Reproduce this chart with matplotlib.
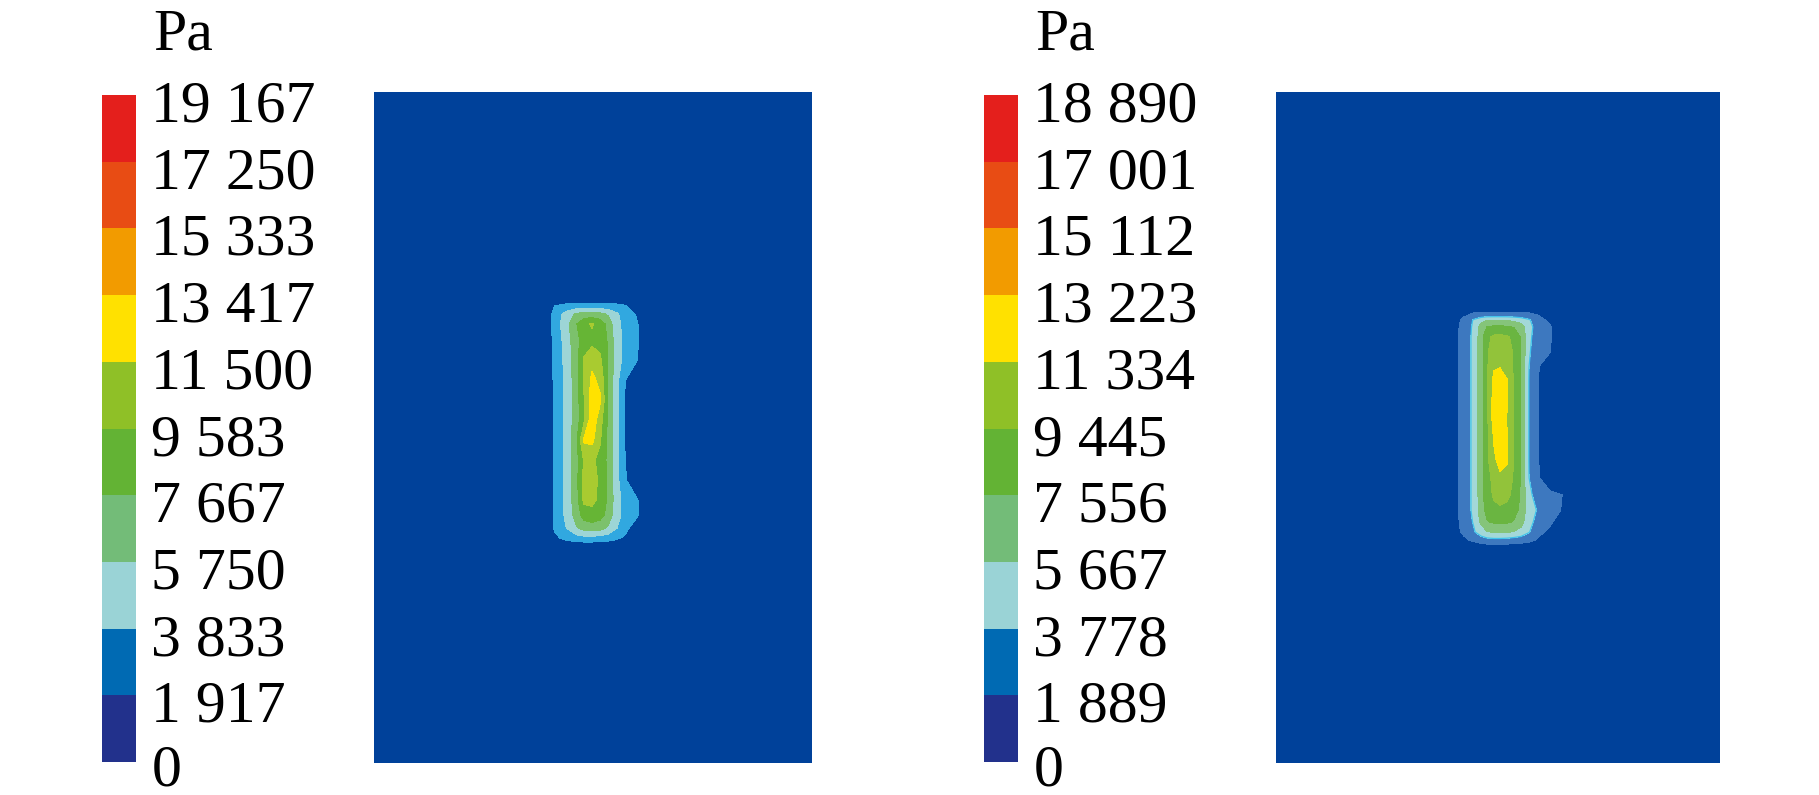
import matplotlib
matplotlib.use("Agg")
import matplotlib.pyplot as plt
import numpy as np
from matplotlib.colors import ListedColormap, BoundaryNorm
from matplotlib.colorbar import ColorbarBase
from matplotlib.transforms import ScaledTranslation

plt.rcParams['font.family'] = ['Liberation Serif', 'DejaVu Serif']

# colour bar levels (Pa)
levels_a = [0, 1917, 3833, 5750, 7667, 9583, 11500, 13417, 15333, 17250, 19167]
levels_b = [0, 1889, 3778, 5667, 7556, 9445, 11334, 13223, 15112, 17001, 18890]

# colour bar bands, bottom to top
bar_colors = ['#22318c', '#006ab3', '#9ad3d6', '#73bc78', '#63b334',
              '#8fc027', '#ffe100', '#f29b00', '#e84c14', '#e41f1c']

# fill colours as they appear in each contour plot
field_a_colors = ['#00419a', '#31a8e0', '#9dd5d6', '#7cc16c', '#66b535',
                  '#a9cb30', '#ffe200', '#f29b00', '#e84c14', '#e41f1c']
field_b_colors = ['#00419a', '#3d78bf', '#a3d8d8', '#85c47a', '#6ab541',
                  '#92c33a', '#ffe300', '#f29b00', '#e84c14', '#e41f1c']

# domain size (width, height), y measured from the top edge
dom_a = (438, 671)
dom_b = (444, 671)

# left case: node positions and pressure values (Pa)
xa = [169, 181, 192, 202, 210, 218, 226, 234, 242, 251, 262, 274]
ya = [204, 214, 222, 232, 248, 268, 288, 308, 328, 348, 368, 388, 408, 423, 436, 446, 456]
pa = [
    [0, 0, 0, 0, 0, 0, 0, 0, 0, 0, 0, 0],
    [0, 2000, 2400, 2600, 2700, 2700, 2600, 2500, 2400, 2100, 800, 0],
    [0, 2600, 4500, 6000, 6500, 6500, 6300, 5500, 4200, 3000, 1800, 0],
    [0, 2700, 5000, 7500, 9000, 9800, 8800, 7000, 4500, 3200, 2300, 0],
    [0, 2500, 4600, 7000, 8500, 9000, 8800, 7500, 4800, 3300, 2400, 0],
    [0, 2400, 4400, 6800, 9800, 10800, 10000, 7500, 4800, 3200, 2200, 0],
    [0, 2300, 4300, 6700, 9800, 12000, 11000, 7600, 4600, 2000, 0, 0],
    [0, 2200, 4300, 6600, 9500, 12300, 11800, 7600, 4600, 1800, 0, 0],
    [0, 2200, 4300, 6600, 9200, 12800, 10500, 7300, 4600, 1700, 0, 0],
    [0, 2300, 4400, 7000, 11800, 12000, 9800, 7300, 4500, 1800, 0, 0],
    [0, 2300, 4300, 6800, 9800, 10000, 9000, 7200, 4500, 2000, 0, 0],
    [0, 2300, 4300, 6900, 10200, 10400, 9200, 7400, 4600, 2200, 0, 0],
    [0, 2300, 4300, 6800, 10000, 10200, 9000, 7400, 4800, 3000, 2300, 0],
    [0, 2300, 4200, 6500, 8500, 8800, 8400, 7000, 4600, 3200, 2400, 0],
    [0, 2200, 3800, 5500, 6500, 6800, 6500, 5500, 4000, 2600, 800, 0],
    [0, 1500, 2500, 3000, 3200, 3200, 3000, 2800, 2300, 1600, 0, 0],
    [0, 0, 0, 0, 0, 0, 0, 0, 0, 0, 0, 0],
]

# right case
xb = [168, 188, 198, 205, 211, 218, 224, 231, 238, 245, 253, 262, 274, 286, 296]
yb = [212, 222, 228, 235, 245, 260, 274, 288, 308, 328, 348, 368, 386, 403, 418, 430, 440, 448, 458]
pb = [
    [0, 0, 0, 0, 0, 0, 0, 0, 0, 0, 0, 0, 0, 0, 0],
    [0, 1500, 2100, 2200, 2300, 2300, 2300, 2300, 2300, 2200, 2100, 1700, 0, 0, 0],
    [0, 2300, 4000, 5000, 5500, 5600, 5600, 5500, 5200, 4800, 4000, 2600, 1400, 0, 0],
    [0, 2500, 4200, 6500, 7600, 8000, 8000, 7800, 7400, 6500, 4500, 2800, 2100, 0, 0],
    [0, 2600, 4300, 6700, 9000, 9800, 9900, 9700, 9000, 7400, 4200, 2800, 2100, 0, 0],
    [0, 2600, 4300, 6700, 9200, 10500, 10700, 10300, 9200, 7400, 4000, 2600, 2000, 0, 0],
    [0, 2600, 4300, 6700, 9200, 11000, 11200, 10600, 9200, 7300, 3800, 2100, 0, 0, 0],
    [0, 2600, 4300, 6700, 9200, 12000, 12200, 11400, 9200, 7300, 3700, 2000, 0, 0, 0],
    [0, 2600, 4300, 6700, 9000, 12300, 12800, 11400, 9200, 7300, 3700, 2000, 0, 0, 0],
    [0, 2600, 4300, 6700, 9000, 12300, 12800, 11300, 9200, 7300, 3700, 2000, 0, 0, 0],
    [0, 2600, 4300, 6700, 9000, 11500, 12500, 11400, 9200, 7300, 3700, 2000, 0, 0, 0],
    [0, 2600, 4300, 6700, 9000, 11000, 12000, 11600, 9300, 7300, 3700, 2000, 0, 0, 0],
    [0, 2600, 4300, 6700, 8800, 10000, 11000, 10500, 9200, 7300, 3800, 2200, 0, 0, 0],
    [0, 2600, 4300, 6700, 8700, 9700, 10000, 9800, 9000, 7300, 4200, 3000, 2500, 1900, 0],
    [0, 2600, 4300, 6600, 8200, 9000, 9200, 9000, 8300, 7000, 4600, 3600, 2600, 1800, 0],
    [0, 2500, 4000, 6000, 7400, 7800, 7900, 7800, 7400, 6400, 4300, 3200, 2300, 600, 0],
    [0, 2300, 3600, 4800, 5500, 5800, 5800, 5800, 5500, 5000, 3900, 2400, 1400, 0, 0],
    [0, 1500, 2300, 2800, 3200, 3300, 3300, 3200, 3000, 2800, 2400, 1700, 0, 0, 0],
    [0, 0, 0, 0, 0, 0, 0, 0, 0, 0, 0, 0, 0, 0, 0],
]

W, H = 1819, 795
fig = plt.figure(figsize=(W / 100, H / 100), dpi=100)


def box(x0, y0, x1, y1):
    # pixel box (from top-left) -> figure fraction
    return [x0 / W, 1 - y1 / H, (x1 - x0) / W, (y1 - y0) / H]


def draw_field(rect, dom, x, y, z, levels, colors, edge=None):
    ax = fig.add_axes(rect)
    ax.set_facecolor(colors[0])
    ax.contourf(x, y, np.array(z), levels=levels, colors=colors)
    if edge:
        ax.contour(x, y, np.array(z), levels=[levels[2]], colors=edge, linewidths=0.9)
    ax.set_xlim(0, dom[0])
    ax.set_ylim(dom[1], 0)
    ax.set_xticks([])
    ax.set_yticks([])
    for s in ax.spines.values():
        s.set_visible(False)


def draw_bar(rect, levels, pa_x, pa_y):
    cax = fig.add_axes(rect)
    cb = ColorbarBase(cax, cmap=ListedColormap(bar_colors),
                      norm=BoundaryNorm(levels, len(bar_colors)),
                      ticks=levels, orientation='vertical')
    cb.outline.set_visible(False)
    cb.set_ticklabels([f"{v:,}".replace(",", " ") for v in levels])
    cax.tick_params(length=0, pad=11, labelsize=43)
    labels = cax.get_yticklabels()
    for i, lab in enumerate(labels):
        dy = -0.03 if i == 0 else -0.06
        lab.set_transform(lab.get_transform() + ScaledTranslation(0, dy, fig.dpi_scale_trans))
    fig.text(pa_x / W, 1 - pa_y / H, "Pa", fontsize=43, ha='left', va='center')


draw_bar(box(102, 95, 136, 762), levels_a, 153, 35)
draw_bar(box(984, 95, 1018, 762), levels_b, 1035, 35)

draw_field(box(374, 92, 812, 763), dom_a, xa, ya, pa, levels_a, field_a_colors)
draw_field(box(1276, 92, 1720, 763), dom_b, xb, yb, pb, levels_b, field_b_colors,
           edge='#3fc4ee')

fig.savefig("out.png", dpi=100)
